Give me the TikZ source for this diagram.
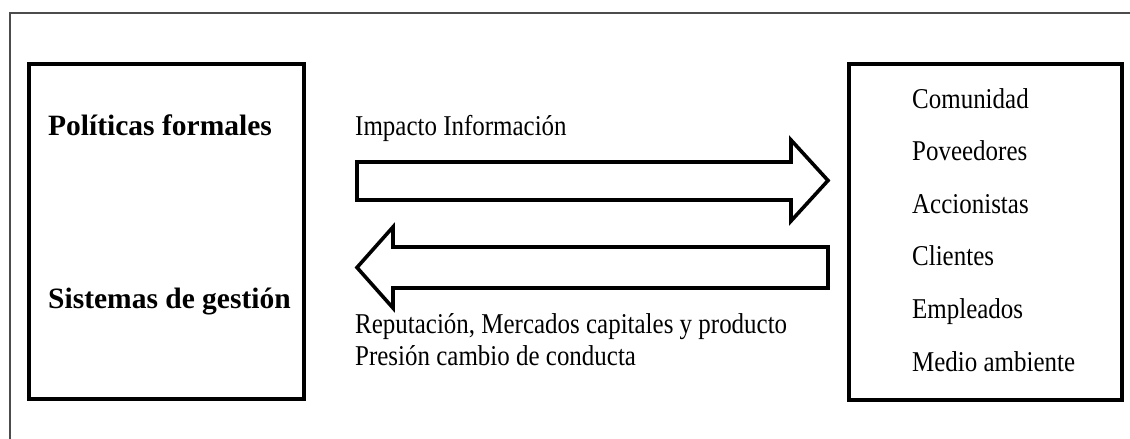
\documentclass[tikz,border=0pt]{standalone}
\usepackage{fontspec}
\setmainfont{Liberation Serif}
\newfontfamily\condfont[FakeStretch=0.87]{Liberation Serif}
\begin{document}
\begin{tikzpicture}[x=1pt,y=-1pt,
  box/.style={draw=black,line width=4pt,inner sep=0pt},
  boldlbl/.style={anchor=base west,inner sep=0pt,font=\fontsize{29.5}{32}\selectfont\bfseries},
  lbl/.style={anchor=base west,inner sep=0pt,font=\condfont\fontsize{28.7}{32}\selectfont},
  blockarrow/.style={draw=black,line width=3.6pt,fill=white,line join=miter},
  frameline/.style={draw=black!70,line width=1.5pt}]
\useasboundingbox (0,0) rectangle (1130,439);
% outer frame (top and left only)
\draw[frameline] (10,439) -- (10,13) -- (1130,13);
% boxes
\node[box,minimum width=275pt,minimum height=335.3pt] (L) at (166.2,231.4) {};
\node[box,minimum width=273pt,minimum height=336pt] (R) at (985.5,232) {};
% left texts
\node[boldlbl] (pf) at (48,135) {Políticas formales};
\node[boldlbl] (sg) at (48,308) {Sistemas de gestión};
% arrow labels
\node[lbl] (imp) at (355,135) {Impacto Información};
\node[lbl] (rep) at (355,333) {Reputación, Mercados capitales y producto};
\node[lbl] (pre) at (355,365) {Presión cambio de conducta};
% right texts
\node[lbl] (r1) at (912,108) {Comunidad};
\node[lbl] (r2) at (912,160.6) {Poveedores};
\node[lbl] (r3) at (912,213.2) {Accionistas};
\node[lbl] (r4) at (912,265.8) {Clientes};
\node[lbl] (r5) at (912,318.4) {Empleados};
\node[lbl] (r6) at (912,371) {Medio ambiente};
% block arrows
\draw[blockarrow] (357,162) -- (791,162) -- (791,140) -- (828,180.5) -- (791,221) -- (791,200) -- (357,200) -- cycle;
\draw[blockarrow] (828,247) -- (393,247) -- (393,227) -- (357,267.5) -- (393,308) -- (393,288) -- (828,288) -- cycle;
\end{tikzpicture}
\end{document}
